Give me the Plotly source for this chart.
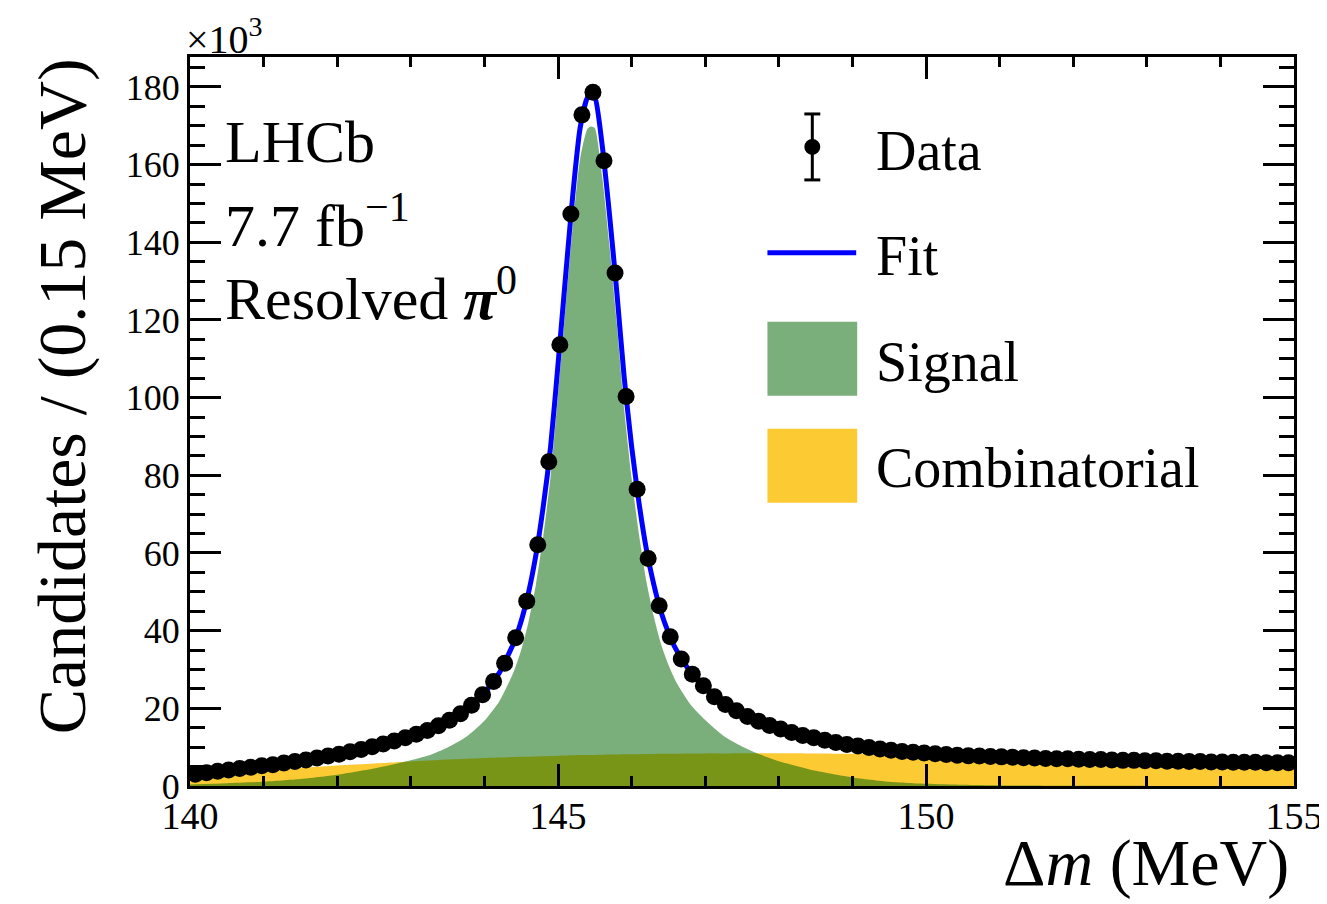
import plotly.graph_objects as go

# ---------------- data (values in units of 10^3 candidates) ----------------
bin_low = 140.0
bin_width = 0.15
data_counts = [3.0, 3.4, 3.8, 4.1, 4.5, 4.8, 5.2, 5.5, 5.9, 6.3,
               6.7, 7.2, 7.7, 8.2, 8.8, 9.4, 10.1, 10.8, 11.6, 12.4,
               13.3, 14.3, 15.5, 16.9, 18.6, 20.8, 23.5, 26.9, 31.6, 38.2,
               47.6, 62.1, 83.5, 113.6, 147.3, 172.8, 178.6, 161.0, 132.1, 100.3,
               76.4, 58.6, 46.4, 38.4, 32.7, 28.8, 25.8, 23.0, 21.0, 19.4,
               17.9, 16.7, 15.6, 14.7, 13.8, 13.0, 12.4, 11.8, 11.2, 10.7,
               10.3, 9.9, 9.5, 9.2, 8.9, 8.7, 8.5, 8.3, 8.1, 7.9,
               7.8, 7.7, 7.6, 7.5, 7.4, 7.3, 7.2, 7.1, 7.0, 7.0,
               6.9, 6.8, 6.8, 6.7, 6.6, 6.6, 6.5, 6.5, 6.4, 6.4,
               6.3, 6.3, 6.2, 6.2, 6.1, 6.1, 6.1, 6.0, 6.0, 6.0]
data_x = [bin_low + bin_width * (i + 0.5) for i in range(len(data_counts))]

curve_x = [140.0, 140.5, 141.0, 141.5, 142.0, 142.5, 143.0, 143.25, 143.5, 143.75,
           144.0, 144.2, 144.4, 144.5, 144.6, 144.7, 144.8, 144.9, 145.0, 145.1,
           145.2, 145.3, 145.4, 145.45, 145.5, 145.6, 145.7, 145.8, 145.9, 146.0,
           146.1, 146.2, 146.3, 146.4, 146.5, 146.6, 146.8, 147.0, 147.25, 147.5,
           147.75, 148.0, 148.5, 149.0, 149.5, 150.0, 150.5, 151.0, 152.0, 153.0,
           154.0, 155.0]
comb_y = [2.4, 3.3, 4.0, 4.7, 5.3, 5.8, 6.3, 6.55, 6.8, 7.0,
          7.2, 7.35, 7.45, 7.5, 7.55, 7.6, 7.65, 7.7, 7.8, 7.85,
          7.9, 7.95, 8.0, 8.0, 8.0, 8.05, 8.1, 8.1, 8.15, 8.2,
          8.2, 8.25, 8.25, 8.3, 8.3, 8.3, 8.35, 8.4, 8.4, 8.45,
          8.45, 8.45, 8.4, 8.3, 8.15, 7.95, 7.7, 7.45, 7.0, 6.6,
          6.25, 5.95]
signal_y = [0.4, 0.7, 1.1, 1.8, 2.9, 4.5, 6.6, 7.9, 9.9, 12.6,
            16.8, 21.7, 29.5, 35.0, 42.3, 51.9, 64.4, 79.8, 100.7, 122.7,
            144.1, 161.4, 169.2, 169.8, 169.4, 157.0, 139.0, 118.9, 96.9, 79.3,
            64.8, 52.8, 43.75, 36.5, 31.2, 27.0, 21.0, 17.0, 12.9, 10.2,
            8.1, 6.4, 3.9, 2.2, 1.1, 0.55, 0.3, 0.15, 0.06, 0.03,
            0.01, 0.0]
fit_y = [c + s for c, s in zip(comb_y, signal_y)]

x_ticks = [140, 145, 150, 155]
y_ticks = [0, 20, 40, 60, 80, 100, 120, 140, 160, 180]

# ---------------- styles ----------------
FONT = "Liberation Serif, Times New Roman, serif"
YELLOW = "#FCCA33"
GREEN = "rgba(0,100,0,0.52)"
BLUE = "#0000FF"

# page offset of the plot div inside the browser (body margin)
OX, OY = 8, 8
W, H = 1327, 904
# target plot frame in screen pixels
FX0, FX1, FY0, FY1 = 190, 1297, 57, 786.5
L = FX0 - OX
T = FY0 - OY
R = W - (FX1 - OX)
B = H - (FY1 - OY)
pw, ph = FX1 - FX0, FY1 - FY0

def px(xs):
    return (xs - FX0) / pw

def py(ys):
    return (FY1 - ys) / ph

fig = go.Figure()
fig.add_trace(go.Scatter(x=curve_x, y=comb_y, mode="lines", name="Combinatorial",
                         line=dict(width=0, color=YELLOW, shape="spline", smoothing=0.6),
                         fill="tozeroy", fillcolor=YELLOW, showlegend=False))
fig.add_trace(go.Scatter(x=curve_x, y=signal_y, mode="lines", name="Signal",
                         line=dict(width=0, color=GREEN, shape="spline", smoothing=0.6),
                         fill="tozeroy", fillcolor=GREEN, showlegend=False))
fig.add_trace(go.Scatter(x=curve_x, y=fit_y, mode="lines", name="Fit",
                         line=dict(width=5, color=BLUE, shape="spline", smoothing=0.6),
                         showlegend=False))
fig.add_trace(go.Scatter(x=data_x, y=data_counts, mode="markers", name="Data",
                         marker=dict(size=17, color="black"), showlegend=False))

axis_common = dict(showline=True, linewidth=3, linecolor="black", mirror="ticks",
                   ticks="inside", tickwidth=3, tickcolor="black", showgrid=False,
                   zeroline=False)
fig.update_xaxes(range=[140, 155], tickvals=x_ticks, ticklen=22, ticklabelstandoff=-6,
                 tickfont=dict(family=FONT, size=38, color="black"),
                 minor=dict(ticks="inside", dtick=1, ticklen=10, tickwidth=3,
                            tickcolor="black", showgrid=False),
                 **axis_common)
fig.update_yaxes(range=[0, 187.7], tickvals=y_ticks, ticklen=31,
                 tickfont=dict(family=FONT, size=36, color="black"),
                 minor=dict(ticks="inside", dtick=5, ticklen=15, tickwidth=3,
                            tickcolor="black", showgrid=False),
                 **axis_common)

ann = []
def text(x, y, s, size, xanchor="left", yanchor="middle", angle=0):
    ann.append(dict(x=x, y=y, xref="paper", yref="paper", text=s, showarrow=False,
                    xanchor=xanchor, yanchor=yanchor, textangle=angle,
                    font=dict(family=FONT, size=size, color="black")))

# axis titles
text(px(1294), py(864), "Δ<i>m</i> (MeV)", 66, xanchor="right")
text(px(62), py(56), "Candidates / (0.15 MeV)", 68, xanchor="center", yanchor="top", angle=-90)
text(px(184), py(36), "×10<sup>3</sup>", 40)
# LHCb label
text(px(223), py(142), "LHCb", 60)
text(px(223), py(222), "7.7 fb<sup>−1</sup>", 60)
text(px(223), py(295), "Resolved <b><i>π</i></b><sup>0</sup>", 60)
# legend text
text(px(876), py(151), "Data", 56)
text(px(876), py(256), "Fit", 56)
text(px(876), py(362), "Signal", 56)
text(px(876), py(468), "Combinatorial", 56)

shapes = []
# Data legend symbol (error bar + dot)
shapes.append(dict(type="line", xref="paper", yref="paper", x0=px(814), x1=px(814),
                   y0=py(114), y1=py(180), line=dict(color="black", width=3)))
for yy in (114, 180):
    shapes.append(dict(type="line", xref="paper", yref="paper", x0=px(806), x1=px(822),
                       y0=py(yy), y1=py(yy), line=dict(color="black", width=3)))
shapes.append(dict(type="circle", xref="paper", yref="paper", x0=px(806), x1=px(822),
                   y0=py(155), y1=py(139), fillcolor="black", line=dict(width=0)))
# Fit legend line
shapes.append(dict(type="line", xref="paper", yref="paper", x0=px(769), x1=px(858),
                   y0=py(253), y1=py(253), line=dict(color=BLUE, width=5)))
# Signal / Combinatorial boxes
shapes.append(dict(type="rect", xref="paper", yref="paper", x0=px(769), x1=px(859),
                   y0=py(396), y1=py(322), fillcolor=GREEN, line=dict(width=0)))
shapes.append(dict(type="rect", xref="paper", yref="paper", x0=px(769), x1=px(859),
                   y0=py(503), y1=py(429), fillcolor=YELLOW, line=dict(width=0)))

fig.update_layout(width=W, height=H, margin=dict(l=L, r=R, t=T, b=B),
                  paper_bgcolor="white", plot_bgcolor="white",
                  annotations=ann, shapes=shapes, showlegend=False,
                  font=dict(family=FONT, color="black"))

fig.write_html("out.html")
